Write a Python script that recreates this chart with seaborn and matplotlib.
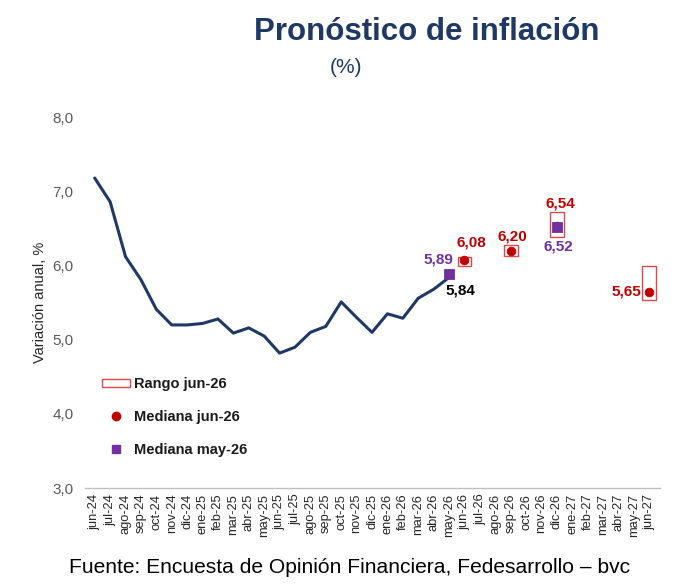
import matplotlib
matplotlib.use("Agg")
import matplotlib.pyplot as plt
import seaborn as sns
import pandas as pd
from matplotlib.patches import Rectangle
from matplotlib.lines import Line2D

months = ["jun-24", "jul-24", "ago-24", "sep-24", "oct-24", "nov-24", "dic-24",
          "ene-25", "feb-25", "mar-25", "abr-25", "may-25", "jun-25", "jul-25",
          "ago-25", "sep-25", "oct-25", "nov-25", "dic-25", "ene-26", "feb-26",
          "mar-26", "abr-26", "may-26", "jun-26", "jul-26", "ago-26", "sep-26",
          "oct-26", "nov-26", "dic-26", "ene-27", "feb-27", "mar-27", "abr-27",
          "may-27", "jun-27"]

observed = [7.18, 6.86, 6.12, 5.81, 5.41, 5.20, 5.20, 5.22, 5.28, 5.09, 5.16,
            5.05, 4.82, 4.90, 5.10, 5.18, 5.51, 5.30, 5.10, 5.35, 5.29, 5.56,
            5.68, 5.84]

fc_months = ["jun-26", "sep-26", "dic-26", "jun-27"]
median_jun26 = [6.08, 6.20, 6.54, 5.65]
range_low = [6.00, 6.13, 6.39, 5.54]
range_high = [6.12, 6.28, 6.72, 6.00]

prev_months = ["may-26", "dic-26"]
median_may26 = [5.89, 6.52]

NAVY = "#1F3864"
RED = "#C00000"
PURPLE = "#7030A0"
GRAY = "#595959"

sns.set_theme(style="white")
plt.rcParams["font.family"] = ["Liberation Sans", "DejaVu Sans"]

fig = plt.figure(figsize=(7.0, 5.86), dpi=100)
ax = fig.add_axes([0.121, 0.167, 0.822, 0.633])

idx = {m: i for i, m in enumerate(months)}
df_obs = pd.DataFrame({"x": [idx[m] for m in months[:len(observed)]], "y": observed})
sns.lineplot(data=df_obs, x="x", y="y", ax=ax, color=NAVY, linewidth=2.2, zorder=3)

fx = [idx[m] for m in fc_months]
heights = [h - l for h, l in zip(range_high, range_low)]
ax.bar(fx, heights, bottom=range_low, width=0.9, facecolor="white",
       edgecolor="#E0474C", linewidth=1.0, zorder=2)

df_med = pd.DataFrame({"x": fx, "y": median_jun26})
sns.scatterplot(data=df_med, x="x", y="y", ax=ax, color=RED, marker="o",
                s=40, edgecolor=RED, zorder=4)
px = [idx[m] for m in prev_months]
df_prev = pd.DataFrame({"x": px, "y": median_may26})
sns.scatterplot(data=df_prev, x="x", y="y", ax=ax, color=PURPLE, marker="s",
                s=55, edgecolor=PURPLE, zorder=5)

def fmt(v):
    return f"{v:.2f}".replace(".", ",")

lab_kw = dict(textcoords="offset pixels", ha="center", va="center",
              fontsize=11, fontweight="bold")
ax.annotate(fmt(median_may26[0]), (px[0], median_may26[0]), xytext=(-11, 14),
            color=PURPLE, **lab_kw)
ax.annotate(fmt(median_may26[1]), (px[1], median_may26[1]), xytext=(1, -20),
            color=PURPLE, **lab_kw)
ax.annotate(fmt(observed[-1]), (len(observed) - 1, observed[-1]), xytext=(11, -13),
            color="black", **lab_kw)
offsets = [(7, 17), (2, 14), (3, 22), (-23, 0)]
for x, v, off in zip(fx, median_jun26, offsets):
    ax.annotate(fmt(v), (x, v), xytext=off, color=RED, **lab_kw)

ax.set_xlim(-0.65, 36.7)
ax.set_ylim(3.0, 8.0)
ax.set_xticks(range(len(months)))
ax.set_xticklabels(months, rotation=90, fontsize=9.3, color="#262626")
ax.set_yticks([3, 4, 5, 6, 7, 8])
ax.set_yticklabels([f"{v:.1f}".replace(".", ",") for v in [3, 4, 5, 6, 7, 8]],
                   fontsize=11, color=GRAY)
ax.tick_params(axis="both", length=0, pad=8)
ax.tick_params(axis="x", pad=4)
ax.set_xlabel("")
ax.set_ylabel("Variación anual, %", fontsize=10.5, color="#262626", labelpad=4)
for s in ["top", "right", "left"]:
    ax.spines[s].set_visible(False)
ax.spines["bottom"].set_color("#BFBFBF")
ax.spines["bottom"].set_linewidth(1.0)
ax.grid(False)

handles = [
    Rectangle((0, 0), 1, 1, facecolor="white", edgecolor="#E0474C", linewidth=1.0),
    Line2D([], [], linestyle="none", marker="o", color=RED, markersize=6),
    Line2D([], [], linestyle="none", marker="s", color=PURPLE, markersize=6),
]
leg = ax.legend(handles, ["Rango jun-26", "Mediana jun-26", "Mediana may-26"],
                loc="upper left", bbox_to_anchor=(0.02, 0.315), frameon=False,
                fontsize=10.5, labelspacing=1.3, handlelength=1.9,
                handleheight=0.5, handletextpad=0.3, borderaxespad=0)
for t in leg.get_texts():
    t.set_fontweight("bold")
    t.set_color("#1a1a1a")

fig.text(0.61, 0.945, "Pronóstico de inflación", ha="center", va="center",
         fontsize=22.5, fontweight="bold", color=NAVY)
fig.text(0.494, 0.884, "(%)", ha="center", va="center", fontsize=15, color=NAVY)
fig.text(0.5, 0.031, "Fuente: Encuesta de Opinión Financiera, Fedesarrollo – bvc",
         ha="center", va="center", fontsize=15.1, color="black")

fig.savefig("out.png", dpi=100)
